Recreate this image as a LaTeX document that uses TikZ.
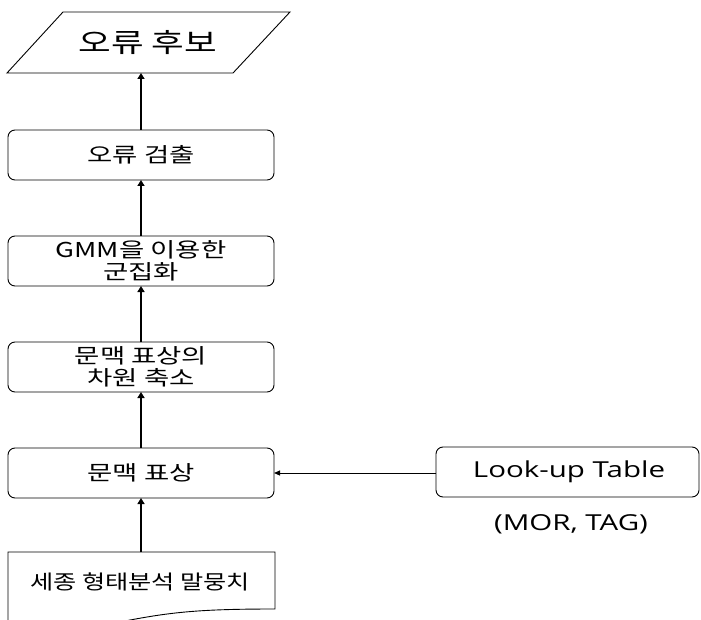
\documentclass[tikz,border=0pt]{standalone}
\usepackage{fontspec}
\usepackage{graphicx}
\setmainfont{Noto Sans CJK KR}
\newfontfamily\latfont{Open Sans}
\newcommand{\sx}[1]{\scalebox{1.34}[1]{#1}}
\usetikzlibrary{arrows.meta}
\begin{document}
\begin{tikzpicture}[x=1pt,y=-1pt,
  box/.style={draw,line width=0.9pt,rounded corners=7pt},
  conn/.style={line width=2pt,-{Triangle[length=6pt,width=7pt]}},
  txt/.style={font=\fontsize{20.5}{22}\selectfont,align=center},
  lat/.style={font=\latfont\fontsize{22}{24}\selectfont}]
\useasboundingbox (0,0) rectangle (701,620);
% parallelogram
\draw[line width=0.9pt] (63,12) -- (290,12) -- (233,73) -- (7,73) -- cycle;
\node[font=\fontsize{26.5}{28}\selectfont] (out) at (148,43) {\sx{오류 후보}};
\coordinate (outb) at (141,73);
\draw[box] (8,130) rectangle (274,180);
\node[txt] (b1) at (141,155) {\sx{오류 검출}};
\draw[box] (8,236) rectangle (274,286);
\node[txt] (b2) at (141,261) {\sx{GMM을 이용한}\\\sx{군집화}};
\draw[box] (8,342) rectangle (274,392);
\node[txt] (b3) at (141,367) {\sx{문맥 표상의}\\\sx{차원 축소}};
\draw[box] (8,448) rectangle (274,498);
\node[txt] (b4) at (141,473) {\sx{문맥 표상}};
\draw[box] (436,447) rectangle (699,497);
\node[lat] (lt) at (569,472) {\sx{Look-up Table}};
\node[lat] (mt) at (571,524) {\sx{(MOR, TAG)}};
% document shape
\draw[line width=0.9pt] (8,640) -- (8,552) -- (275,552) -- (275,609)
  .. controls (200,609) and (170,612) .. (120,622);
\node[font=\fontsize{20}{22}\selectfont] (doc) at (140,582) {\scalebox{1.26}[1]{세종 형태분석 말뭉치}};
\coordinate (b1t) at (141,130);
\coordinate (b1b) at (141,180);
\coordinate (b2t) at (141,236);
\coordinate (b2b) at (141,286);
\coordinate (b3t) at (141,342);
\coordinate (b3b) at (141,392);
\coordinate (b4t) at (141,448);
\coordinate (b4b) at (141,498);
\coordinate (b4r) at (274,473);
\coordinate (ltl) at (436,473);
\coordinate (doct) at (141,552);
\draw[conn] (b1t) -- (outb);
\draw[conn] (b2t) -- (b1b);
\draw[conn] (b3t) -- (b2b);
\draw[conn] (b4t) -- (b3b);
\draw[conn] (doct) -- (b4b);
\draw[line width=1pt,-{Triangle[length=6pt,width=5pt]}] (ltl) -- (b4r);
\end{tikzpicture}
\end{document}
